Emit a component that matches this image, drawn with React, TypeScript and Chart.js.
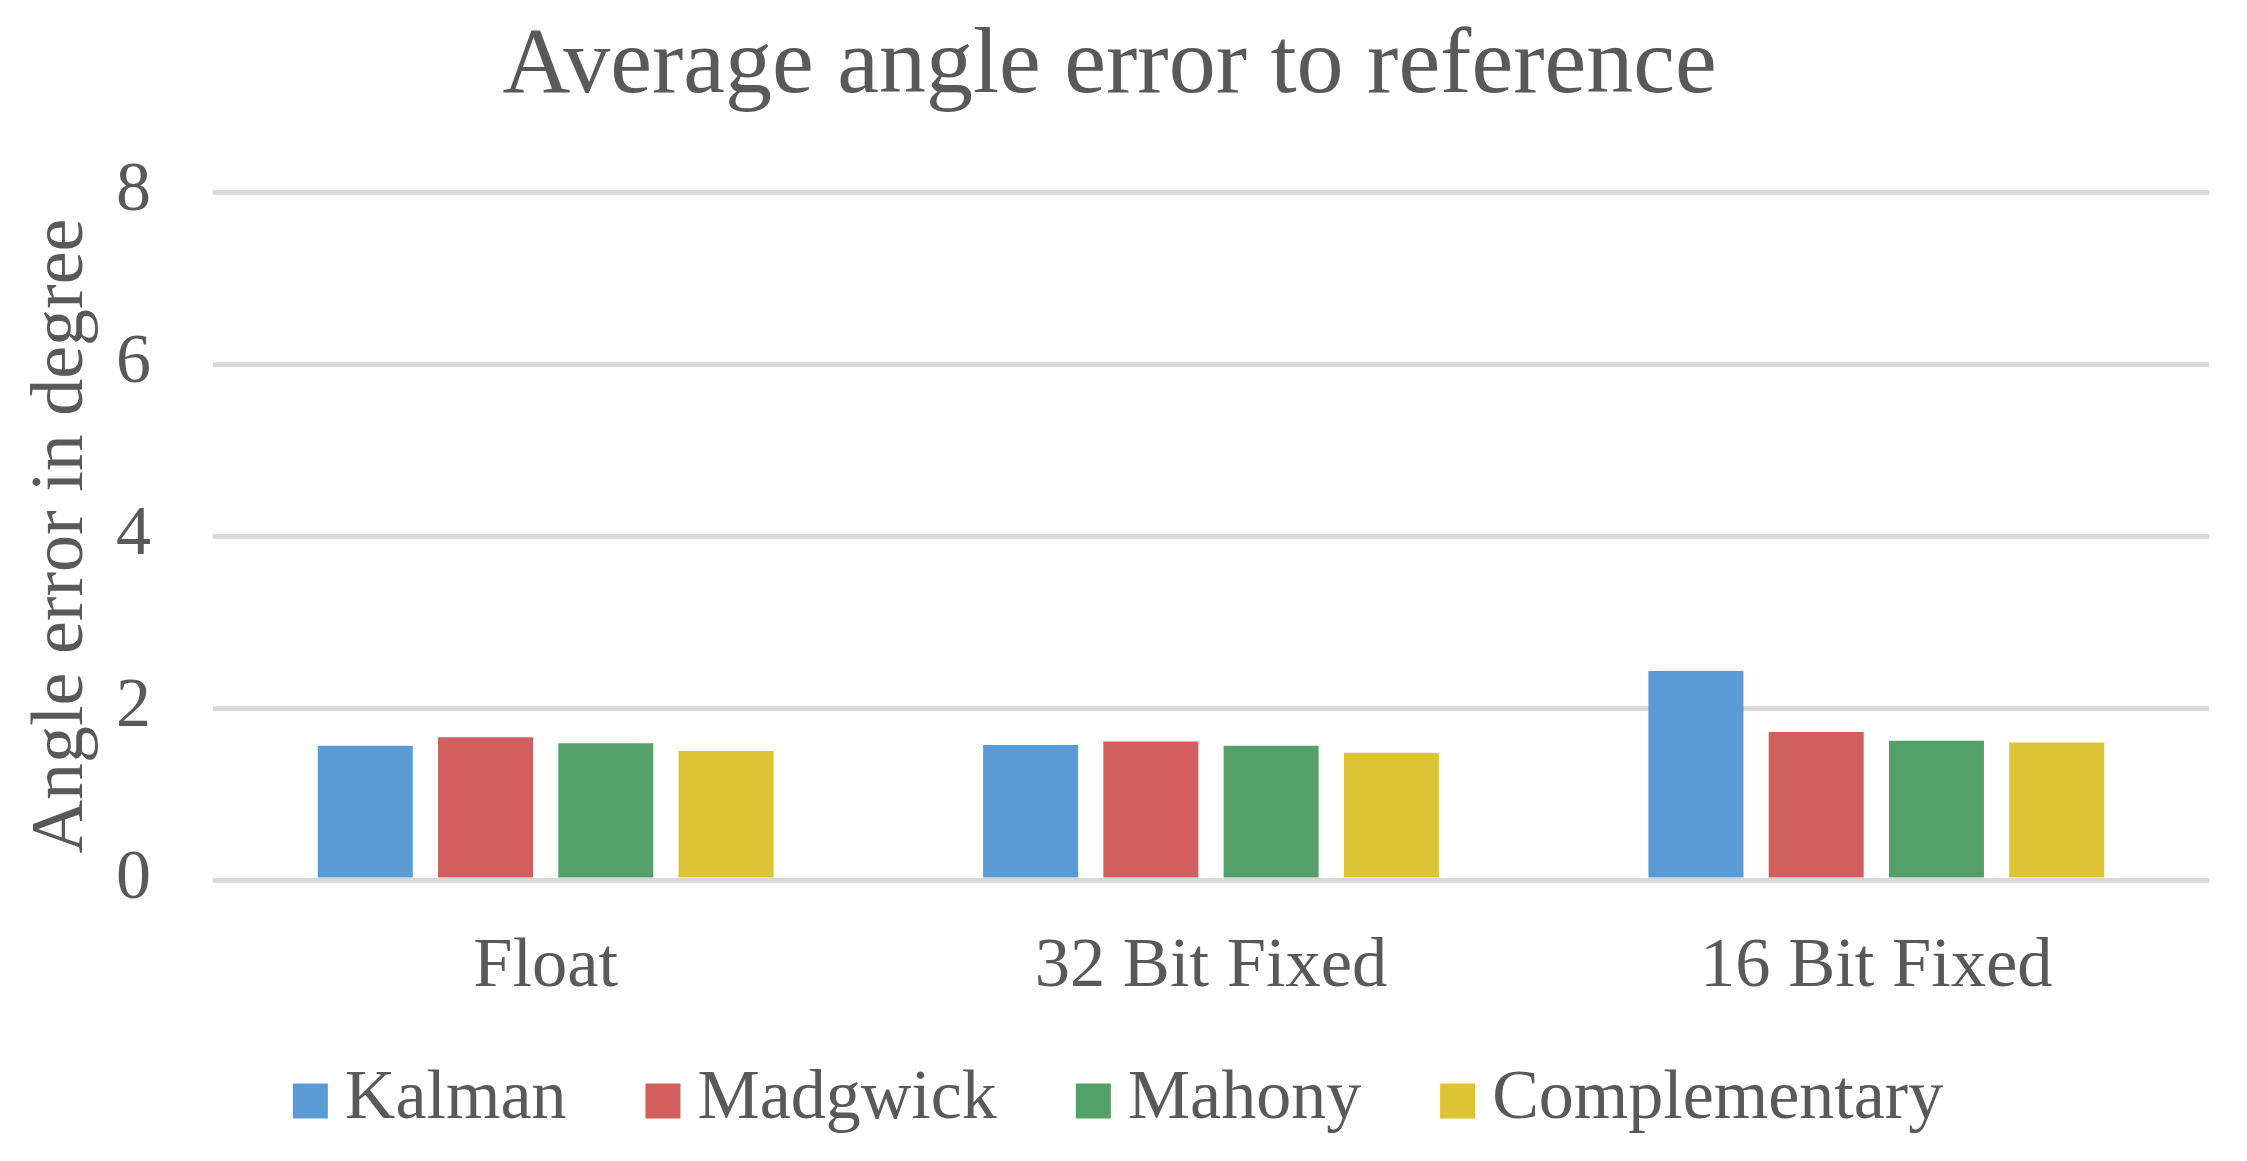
import React, { useEffect, useRef } from "react";
import { Chart, registerables } from "chart.js";

Chart.register(...registerables);

const categories = ["Float", "32 Bit Fixed", "16 Bit Fixed"];
const seriesNames = ["Kalman", "Madgwick", "Mahony", "Complementary"];
const kalman = [1.56, 1.57, 2.43];
const madgwick = [1.66, 1.61, 1.72];
const mahony = [1.59, 1.56, 1.62];
const complementary = [1.5, 1.48, 1.6];
const seriesColors = ["#5b9bd5", "#d25e5d", "#53a069", "#dcc434"];
const yTicks = [0, 2, 4, 6, 8];

const titleText = "Average angle error to reference";
const yTitle = "Angle error in degree";

const FONT = '"Liberation Serif", "Times New Roman", serif';
const TEXT = "#595959";

// Legend drawn below the axis, matching the reference spacing
const bottomLegend = {
  id: "bottomLegend",
  afterDraw(chart: any) {
    const ctx = chart.ctx;
    const box = 35;
    const boxGap = 17;
    const itemGap = 79;
    const centerX = 1118;
    const midY = 1101;
    ctx.save();
    ctx.font = `normal 70px ${FONT}`;
    const items = chart.data.datasets.map((ds: any) => ({
      text: ds.label as string,
      color: ds.backgroundColor as string,
      w: ctx.measureText(ds.label).width,
    }));
    const total =
      items.reduce((s: number, it: any) => s + box + boxGap + it.w, 0) +
      itemGap * (items.length - 1);
    let x = centerX - total / 2;
    ctx.textBaseline = "middle";
    ctx.textAlign = "left";
    items.forEach((it: any) => {
      ctx.fillStyle = it.color;
      ctx.fillRect(x, midY - box / 2, box, box);
      ctx.fillStyle = TEXT;
      ctx.fillText(it.text, x + box + boxGap, midY - 1);
      x += box + boxGap + it.w + itemGap;
    });
    ctx.restore();
  },
};

export default function App() {
  const ref = useRef<HTMLCanvasElement | null>(null);

  useEffect(() => {
    if (!ref.current) return;
    const values = [kalman, madgwick, mahony, complementary];
    const chart = new Chart(ref.current, {
      type: "bar",
      data: {
        labels: categories,
        datasets: seriesNames.map((name, i) => ({
          label: name,
          data: values[i],
          backgroundColor: seriesColors[i],
          borderWidth: 0,
          categoryPercentage: 0.723,
          barPercentage: 0.79,
        })),
      },
      plugins: [bottomLegend],
      options: {
        animation: false,
        responsive: true,
        maintainAspectRatio: false,
        devicePixelRatio: 1,
        layout: { padding: { left: 10, right: 38, top: 0, bottom: 145.5 } },
        plugins: {
          title: {
            display: true,
            text: titleText,
            color: TEXT,
            font: { family: FONT, size: 94, weight: "normal" },
            padding: { top: 11, bottom: 68.2 },
          },
          legend: { display: false },
          tooltip: { enabled: false },
        },
        scales: {
          x: {
            grid: { display: false, drawTicks: false },
            border: { display: false },
            ticks: {
              color: TEXT,
              font: { family: FONT, size: 70.5 },
              padding: 45,
              maxRotation: 0,
            },
            afterFit: (scale: any) => {
              scale.height = 135.5;
            },
          },
          y: {
            min: 0,
            max: 8,
            afterBuildTicks: (scale: any) => {
              scale.ticks = yTicks.map((v) => ({ value: v }));
            },
            grid: { color: "#d9d9d9", lineWidth: 5, drawTicks: false },
            border: { display: false },
            ticks: {
              color: TEXT,
              font: { family: FONT, size: 70 },
              padding: 62,
            },
            title: {
              display: true,
              text: yTitle,
              color: TEXT,
              font: { family: FONT, size: 74 },
              padding: { top: 8.5, bottom: 0 },
            },
            afterFit: (scale: any) => {
              scale.width = 203;
            },
          },
        },
      },
    });
    return () => chart.destroy();
  }, []);

  return (
    <div
      style={{
        position: "fixed",
        left: 0,
        top: 0,
        width: 2247,
        height: 1161,
        background: "#ffffff",
      }}
    >
      <canvas ref={ref} />
    </div>
  );
}
